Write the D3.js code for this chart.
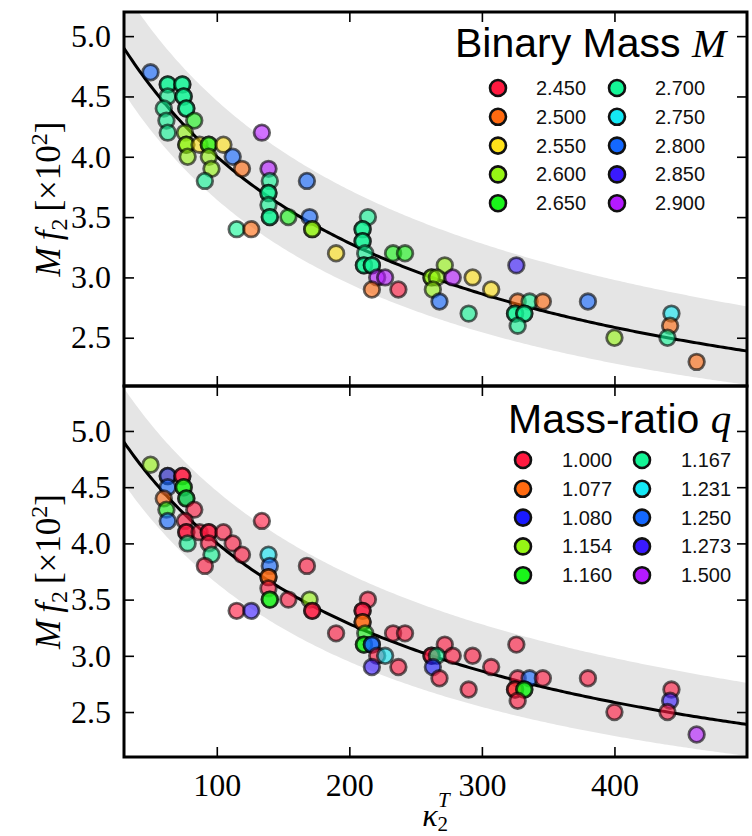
<!DOCTYPE html>
<html>
<head>
<meta charset="utf-8">
<script src="https://cdn.jsdelivr.net/npm/d3@7"></script>
<style>
  html, body { margin: 0; padding: 0; background: #fff; }
  svg { display: block; }
  .tick text { font-family: "Liberation Serif", "DejaVu Serif", serif; }
</style>
</head>
<body>
<svg id="chart" width="752" height="836"></svg>
<script>
// Simulated post-merger peak frequencies: tidal coupling constant, frequency (x10^2),
// binary mass and mass ratio for each configuration.
const kappa = [50, 63, 63, 74, 74, 63, 75, 75, 60, 77, 77, 62, 83, 63, 76, 77, 77, 87, 94, 94,
  105, 112, 119, 78, 94, 96, 91, 134, 139, 140, 139, 139, 139, 140, 140, 154, 115, 126, 168, 170,
  172, 172, 190, 214, 210, 210, 210, 210, 212, 211, 211, 217, 217, 221, 227, 217, 237, 233, 242, 272,
  262, 262, 266, 278, 293, 263, 268, 307, 290, 326, 327, 336, 346, 325, 325, 332, 332, 327, 380, 400,
  443, 442, 440, 462];
const mf2 = [4.7, 4.6, 4.6, 4.6, 4.6, 4.5, 4.5, 4.5, 4.4, 4.4, 4.4, 4.3, 4.3, 4.2, 4.2, 4.1, 4.1, 4.1, 4.1, 4.1,
  4.1, 4.0, 3.9, 4.0, 4.0, 3.9, 3.8, 4.2, 3.9, 3.8, 3.7, 3.7, 3.6, 3.5, 3.5, 3.5, 3.4, 3.4, 3.8, 3.5,
  3.4, 3.4, 3.2, 3.5, 3.4, 3.4, 3.3, 3.3, 3.2, 3.1, 3.1, 3.1, 3.1, 3.0, 3.0, 2.9, 2.9, 3.2, 3.2, 3.1,
  3.0, 3.0, 3.0, 3.0, 3.0, 2.9, 2.8, 2.9, 2.7, 3.1, 2.8, 2.8, 2.8, 2.7, 2.7, 2.7, 2.7, 2.6, 2.8, 2.5,
  2.7, 2.6, 2.5, 2.3];
const mass = [2.80, 2.70, 2.70, 2.70, 2.70, 2.70, 2.70, 2.70, 2.70, 2.70, 2.70, 2.70, 2.65, 2.70, 2.60, 2.60, 2.60, 2.55, 2.60, 2.65,
  2.55, 2.80, 2.50, 2.60, 2.60, 2.60, 2.70, 2.90, 2.90, 2.70, 2.70, 2.70, 2.70, 2.70, 2.70, 2.65, 2.70, 2.50, 2.80, 2.80,
  2.60, 2.60, 2.55, 2.70, 2.70, 2.70, 2.70, 2.70, 2.70, 2.70, 2.70, 2.70, 2.70, 2.90, 2.90, 2.50, 2.45, 2.65, 2.65, 2.60,
  2.60, 2.60, 2.60, 2.90, 2.55, 2.60, 2.80, 2.55, 2.70, 2.85, 2.50, 2.70, 2.50, 2.70, 2.70, 2.70, 2.70, 2.70, 2.80, 2.60,
  2.75, 2.50, 2.70, 2.50];
const ratio = [1.154, 1.000, 1.250, 1.000, 1.000, 1.250, 1.160, 1.160, 1.077, 1.250, 1.160, 1.160, 1.000, 1.250, 1.000, 1.000, 1.000, 1.000, 1.000, 1.000,
  1.000, 1.000, 1.000, 1.167, 1.000, 1.167, 1.000, 1.000, 1.231, 1.250, 1.077, 1.077, 1.000, 1.160, 1.160, 1.000, 1.000, 1.273, 1.000, 1.154,
  1.000, 1.000, 1.000, 1.000, 1.000, 1.000, 1.077, 1.077, 1.160, 1.160, 1.160, 1.250, 1.250, 1.000, 1.231, 1.273, 1.000, 1.000, 1.000, 1.000,
  1.000, 1.000, 1.167, 1.000, 1.000, 1.080, 1.000, 1.000, 1.000, 1.000, 1.000, 1.250, 1.000, 1.077, 1.000, 1.160, 1.160, 1.000, 1.000, 1.000,
  1.000, 1.273, 1.000, 1.500];

// Legend entries and their colours
const massLevels = [2.450, 2.500, 2.550, 2.600, 2.650, 2.700, 2.750, 2.800, 2.850, 2.900];
const massColors = ["#ff1a40", "#ff6a10", "#ffe21a", "#96f515", "#1af51a", "#14f596", "#14e8f5", "#1468ff", "#3a1aff", "#b41aff"];
const ratioLevels = [1.000, 1.077, 1.080, 1.154, 1.160, 1.167, 1.231, 1.250, 1.273, 1.500];
const ratioColors = ["#ff1a40", "#ff6a10", "#1a1aff", "#96f515", "#1af51a", "#14f596", "#14e8f5", "#1468ff", "#3a1aff", "#b41aff"];

const xTicks = [100, 200, 300, 400];
const yTicks = [2.5, 3.0, 3.5, 4.0, 4.5, 5.0];

// Rational fit Mf2(kappa) = A (1 + b k) / (1 + c k)
const fitA = 5.493, fitB = 0.0012217, fitC = 0.005405;
const fit = k => fitA * (1 + fitB * k) / (1 + fitC * k);
// half-widths of the shaded band above / below the fit at kappa = 30 and kappa = 500
const bandUp = [0.48, 0.37];
const bandDown = [0.37, 0.28];
const bandScale = d3.scaleLinear().domain([30, 500]).range([0, 1]);
const up = k => d3.interpolateNumber(bandUp[0], bandUp[1])(bandScale(k));
const down = k => d3.interpolateNumber(bandDown[0], bandDown[1])(bandScale(k));

const svg = d3.select("#chart");
const L = 124, R = 747;
const x = d3.scaleLinear().domain([30, 500]).range([0, R - L]);

const panels = [
  { top: 12, bottom: 386, domain: [2.1, 5.2], levels: massLevels, colors: massColors, key: mass,
    title: "Binary Mass", sym: "M", titleX: 455, titleY: 57, legX: 498, legY: 88, colGap: 119, labGap: 38 },
  { top: 386, bottom: 757, domain: [2.1, 5.4], levels: ratioLevels, colors: ratioColors, key: ratio,
    title: "Mass-ratio", sym: "q", titleX: 508, titleY: 433, legX: 523, legY: 460, colGap: 119, labGap: 39 }
];

const kGrid = d3.range(30, 500.5, 2);

panels.forEach((p, pi) => {
  const h = p.bottom - p.top, w = R - L;
  const y = d3.scaleLinear().domain(p.domain).range([h, 0]);
  const g = svg.append("g").attr("transform", `translate(${L},${p.top})`);
  const clipId = "clip" + pi;
  g.append("clipPath").attr("id", clipId).append("rect").attr("width", w).attr("height", h);
  const body = g.append("g").attr("clip-path", `url(#${clipId})`);

  // shaded band around the fit
  body.append("path")
    .datum(kGrid)
    .attr("fill", "#e5e5e5")
    .attr("d", d3.area().x(k => x(k)).y0(k => y(fit(k) - down(k))).y1(k => y(fit(k) + up(k))));

  // fit curve
  body.append("path")
    .datum(kGrid)
    .attr("fill", "none").attr("stroke", "#000").attr("stroke-width", 3)
    .attr("d", d3.line().x(k => x(k)).y(k => y(fit(k))));

  // simulations
  const color = d3.scaleOrdinal().domain(p.levels).range(p.colors);
  body.selectAll("circle.pt")
    .data(d3.range(kappa.length))
    .join("circle")
    .attr("class", "pt")
    .attr("cx", i => x(kappa[i]))
    .attr("cy", i => y(mf2[i]))
    .attr("r", 7.8)
    .attr("fill", i => color(p.key[i]))
    .attr("fill-opacity", 0.62)
    .attr("stroke", "#000")
    .attr("stroke-opacity", 0.6)
    .attr("stroke-width", 2.8);

  // axes with inward ticks on all sides
  const yl = g.append("g").call(d3.axisLeft(y).tickValues(yTicks).tickSize(-10).tickPadding(13).tickFormat(d3.format(".1f")));
  const yr = g.append("g").attr("transform", `translate(${w},0)`).call(d3.axisRight(y).tickValues(yTicks).tickSize(-10).tickFormat(""));
  const xt = g.append("g").call(d3.axisTop(x).tickValues(xTicks).tickSize(-10).tickFormat(""));
  const xb = g.append("g").attr("transform", `translate(0,${h})`)
    .call(d3.axisBottom(x).tickValues(xTicks).tickSize(-10).tickPadding(16).tickFormat(pi === 1 ? d3.format("d") : ""));
  [yl, yr, xt, xb].forEach(a => {
    a.select(".domain").remove();
    a.selectAll(".tick line").attr("stroke", "#000").attr("stroke-width", 1.6);
    a.selectAll(".tick text").attr("font-size", 32).attr("fill", "#000");
  });

  // frame
  g.append("rect").attr("width", w).attr("height", h)
    .attr("fill", "none").attr("stroke", "#000").attr("stroke-width", 3);

  // y label
  const cy = p.top + h / 2;
  const lab = svg.append("text")
    .attr("transform", `translate(60,${cy}) rotate(-90)`)
    .attr("text-anchor", "middle")
    .attr("font-family", "Liberation Serif, serif")
    .attr("font-size", 35);
  lab.append("tspan").attr("font-style", "italic").text("M");
  lab.append("tspan").attr("font-style", "italic").attr("dx", 7).text("f");
  lab.append("tspan").attr("font-size", 24).attr("dy", 7).text("2");
  lab.append("tspan").attr("dy", -7).attr("dx", 7).text("[×10");
  lab.append("tspan").attr("font-size", 24).attr("dy", -13).text("2");
  lab.append("tspan").attr("dy", 13).text("]");

  // title
  const t = svg.append("text").attr("x", p.titleX).attr("y", p.titleY)
    .attr("font-family", "Liberation Sans, Arial, sans-serif").attr("font-size", 41).attr("fill", "#000");
  t.append("tspan").text(p.title + " ");
  t.append("tspan").attr("font-family", "Liberation Serif, serif").attr("font-style", "italic").text(p.sym);

  // legend: two columns of five
  const leg = svg.append("g");
  p.levels.forEach((lv, i) => {
    const col = Math.floor(i / 5), row = i % 5;
    const lx = p.legX + col * p.colGap, ly = p.legY + row * 28.8;
    leg.append("circle").attr("cx", lx).attr("cy", ly).attr("r", 8)
      .attr("fill", p.colors[i]).attr("stroke", "#111").attr("stroke-width", 2.6);
    leg.append("text").attr("x", lx + p.labGap).attr("y", ly + 7)
      .attr("font-family", "Liberation Sans, Arial, sans-serif").attr("font-size", 20).attr("fill", "#111")
      .text(d3.format(".3f")(lv));
  });
});

// x label
const xl = svg.append("text").attr("x", 436).attr("y", 826)
  .attr("text-anchor", "middle")
  .attr("font-family", "Liberation Serif, serif").attr("font-size", 32).attr("font-style", "italic");
xl.append("tspan").text("κ");
xl.append("tspan").attr("font-size", 21).attr("font-style", "normal").attr("dy", 5).text("2");
xl.append("tspan").attr("font-size", 21).attr("dx", -10).attr("dy", -24).text("T");
</script>
</body>
</html>
